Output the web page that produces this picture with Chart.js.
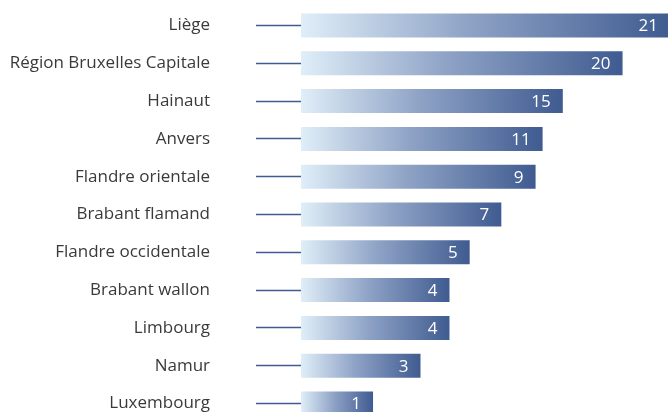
<!DOCTYPE html>
<html>
<head>
<meta charset="utf-8">
<script src="https://cdn.jsdelivr.net/npm/chart.js@4/dist/chart.umd.min.js"></script>
<style>
  html, body { margin: 0; padding: 0; background: #ffffff; overflow: hidden; width: 668px; height: 412px; }
  #wrap { position: absolute; left: 0; top: 0; width: 670px; height: 423px; }
</style>
</head>
<body>
<div id="wrap"><canvas id="c" width="670" height="423"></canvas></div>
<script>
const categories = ["Liège", "Région Bruxelles Capitale", "Hainaut", "Anvers", "Flandre orientale", "Brabant flamand", "Flandre occidentale", "Brabant wallon", "Limbourg", "Namur", "Luxembourg"];
// bar lengths as drawn in the picture (estimated, same unit as the top bar = 21)
const barLengths = [21, 18.3, 14.9, 13.75, 13.35, 11.4, 9.6, 8.45, 8.45, 6.8, 4.1];
// numbers written inside the bars
const valueLabels = ["21", "20", "15", "11", "9", "7", "5", "4", "4", "3", "1"];

const lightColor = "#dfeef8";
const midColor = "#8fa3c6";
const darkColor = "#3f5b90";

const valueLabelPlugin = {
  id: "valueLabels",
  afterDatasetsDraw(chart) {
    const ctx = chart.ctx;
    const meta = chart.getDatasetMeta(0);
    ctx.save();
    ctx.fillStyle = "#ffffff";
    ctx.font = "17px 'Open Sans'";
    ctx.textAlign = "right";
    ctx.textBaseline = "middle";
    meta.data.forEach((el, i) => {
      ctx.fillText(valueLabels[i], el.x - 12, el.y + 1);
    });
    ctx.restore();
  }
};

new Chart(document.getElementById("c"), {
  type: "bar",
  data: {
    labels: categories,
    datasets: [{
      data: barLengths,
      borderWidth: 0,
      barPercentage: 0.635,
      categoryPercentage: 1,
      clip: false,
      backgroundColor(ctx) {
        const chart = ctx.chart;
        if (!chart.chartArea || ctx.type !== "data") return midColor;
        const xs = chart.scales.x;
        const x0 = xs.getPixelForValue(0);
        const x1 = xs.getPixelForValue(ctx.raw);
        const g = chart.ctx.createLinearGradient(x0, 0, x1, 0);
        g.addColorStop(0, lightColor);
        g.addColorStop(0.45, midColor);
        g.addColorStop(1, darkColor);
        return g;
      }
    }]
  },
  options: {
    indexAxis: "y",
    responsive: false,
    animation: false,
    layout: { padding: { left: 0, right: 0, top: 6.6, bottom: 0.6 } },
    plugins: { legend: { display: false }, tooltip: { enabled: false } },
    scales: {
      x: { display: false, min: 0, max: 21 },
      y: {
        afterFit(scale) {
          scale.width = 301;
          scale.paddingTop = 0;
          scale.paddingBottom = 0;
        },
        border: { display: false },
        grid: {
          offset: false,
          drawOnChartArea: false,
          drawTicks: true,
          tickLength: 45,
          tickWidth: 1.5,
          tickColor: "#3f5b90"
        },
        ticks: {
          padding: 46,
          color: "#3a3a3a",
          font: { family: "'Open Sans'", size: 17 }
        }
      }
    }
  },
  plugins: [valueLabelPlugin]
});
</script>
</body>
</html>
